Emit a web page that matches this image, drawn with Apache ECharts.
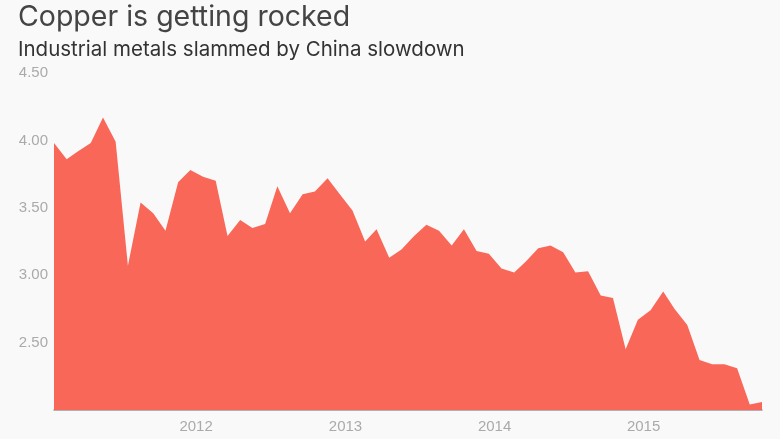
<!DOCTYPE html>
<html>
<head>
<meta charset="utf-8">
<script src="https://cdn.jsdelivr.net/npm/echarts@6/dist/echarts.min.js"></script>
<style>
html,body{margin:0;padding:0;background:#f9f9f9;}
#chart{width:780px;height:439px;}
</style>
</head>
<body>
<div id="chart"></div>
<script>
const titleText = 'Copper is getting rocked';
const subtitleText = 'Industrial metals slammed by China slowdown';
const months = [
 '2011-01','2011-02','2011-03','2011-04','2011-05','2011-06','2011-07','2011-08','2011-09','2011-10','2011-11','2011-12',
 '2012-01','2012-02','2012-03','2012-04','2012-05','2012-06','2012-07','2012-08','2012-09','2012-10','2012-11','2012-12',
 '2013-01','2013-02','2013-03','2013-04','2013-05','2013-06','2013-07','2013-08','2013-09','2013-10','2013-11','2013-12',
 '2014-01','2014-02','2014-03','2014-04','2014-05','2014-06','2014-07','2014-08','2014-09','2014-10','2014-11','2014-12',
 '2015-01','2015-02','2015-03','2015-04','2015-05','2015-06','2015-07','2015-08','2015-09','2015-10'
];
const copperPrice = [
 3.98,3.86,3.92,3.98,4.17,3.99,3.07,3.54,3.46,3.33,3.69,3.78,
 3.73,3.70,3.29,3.41,3.35,3.38,3.66,3.46,3.60,3.62,3.72,3.60,
 3.48,3.25,3.34,3.13,3.19,3.29,3.375,3.33,3.22,3.34,3.18,3.16,
 3.05,3.02,3.10,3.20,3.22,3.17,3.02,3.03,2.85,2.83,2.45,2.67,
 2.74,2.88,2.75,2.63,2.37,2.34,2.34,2.31,2.04,2.06
];
const yTicks = [2.0, 2.5, 3.0, 3.5, 4.0, 4.5];
const xYears = ['2012','2013','2014','2015'];

const dayOfMonth = '-18';
const seriesData = months.map((m, i) => [m + dayOfMonth, copperPrice[i]]);

const titleFont = 'Inter, Liberation Sans, Arial, sans-serif';
const chart = echarts.init(document.getElementById('chart'), null, {renderer: 'canvas'});
chart.setOption({
  backgroundColor: '#f9f9f9',
  animation: false,
  title: [
    {text: titleText, left: 18, top: 3, padding: 0,
     textStyle: {fontFamily: titleFont, fontSize: 28.5, fontWeight: 'normal', color: '#444444'}},
    {text: subtitleText, left: 18, top: 39, padding: 0,
     textStyle: {fontFamily: titleFont, fontSize: 20.5, fontWeight: 'normal', color: '#333333'}}
  ],
  grid: {left: 54, right: 18, top: 73, bottom: 29, containLabel: false},
  xAxis: {
    type: 'time',
    min: seriesData[0][0],
    max: seriesData[seriesData.length - 1][0],
    minInterval: 365 * 24 * 3600 * 1000,
    axisLine: {show: true, lineStyle: {color: '#999999', width: 1.5}},
    axisTick: {show: false},
    splitLine: {show: false},
    axisLabel: {
      showMinLabel: false, showMaxLabel: false,
      color: '#aaaaaa', fontSize: 15, fontFamily: 'Liberation Sans, Arial, sans-serif', margin: 9,
      formatter: function (v) {
        const d = new Date(v);
        const y = String(d.getFullYear());
        return (d.getMonth() === 0 && d.getDate() === 1 && xYears.indexOf(y) >= 0) ? y : '';
      }
    }
  },
  yAxis: {
    type: 'value',
    min: yTicks[0], max: yTicks[yTicks.length - 1], interval: 0.5,
    axisLine: {show: false},
    axisTick: {show: false},
    splitLine: {show: false},
    axisLabel: {
      color: '#aaaaaa', fontSize: 15, fontFamily: 'Liberation Sans, Arial, sans-serif', margin: 6,
      formatter: function (v) { return v === yTicks[0] ? '' : v.toFixed(2); }
    }
  },
  series: [{
    type: 'line',
    data: seriesData,
    symbol: 'none',
    lineStyle: {width: 0},
    areaStyle: {color: '#f96758', opacity: 1},
    silent: true
  }]
});
</script>
</body>
</html>
